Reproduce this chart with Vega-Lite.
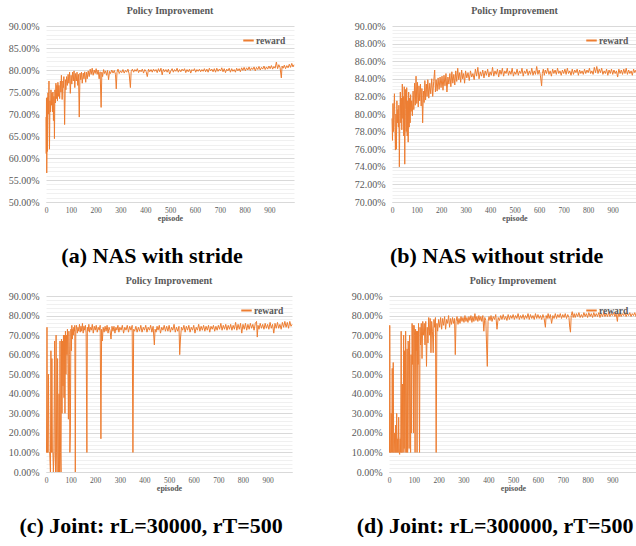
{
"$schema": "https://vega.github.io/schema/vega-lite/v6.json",
"background": "white",
"padding": {"left": 8, "top": 6, "right": 0, "bottom": 0},
"datasets": {
"a": [{"e":0,"r":69.3},{"e":1,"r":61},{"e":2,"r":73.6},{"e":3,"r":56.6},{"e":4,"r":63},{"e":5,"r":73.8},{"e":6,"r":61.5},{"e":8,"r":74.8},{"e":10,"r":70},{"e":12,"r":77.5},{"e":14,"r":62},{"e":16,"r":73},{"e":18,"r":70.5},{"e":20,"r":75.5},{"e":22,"r":72},{"e":24,"r":74.8},{"e":26,"r":70.5},{"e":28,"r":75},{"e":30,"r":68.5},{"e":32,"r":74},{"e":34,"r":64.4},{"e":36,"r":75.5},{"e":38,"r":72.5},{"e":40,"r":77},{"e":42,"r":73.5},{"e":44,"r":76.5},{"e":46,"r":73},{"e":48,"r":77.2},{"e":50,"r":74},{"e":52,"r":76.5},{"e":55,"r":73.5},{"e":58,"r":77.5},{"e":60,"r":75},{"e":62,"r":78.8},{"e":65,"r":73.3},{"e":68,"r":77.5},{"e":70,"r":76},{"e":72,"r":78.5},{"e":75,"r":67.6},{"e":78,"r":77.8},{"e":80,"r":75.5},{"e":83,"r":78.5},{"e":86,"r":76.5},{"e":89,"r":79},{"e":92,"r":77},{"e":95,"r":79.5},{"e":98,"r":74.7},{"e":101,"r":78.8},{"e":104,"r":76.8},{"e":107,"r":79.5},{"e":110,"r":77.5},{"e":113,"r":79.8},{"e":116,"r":76},{"e":119,"r":79.2},{"e":122,"r":77.5},{"e":125,"r":79.5},{"e":128,"r":76.5},{"e":131,"r":79},{"e":134,"r":69.3},{"e":137,"r":79.3},{"e":140,"r":77.8},{"e":143,"r":79.5},{"e":146,"r":77},{"e":150,"r":79.3},{"e":153,"r":78},{"e":156,"r":79.6},{"e":160,"r":77.2},{"e":163,"r":79.5},{"e":166,"r":78},{"e":170,"r":79.8},{"e":174,"r":78.5},{"e":178,"r":80.2},{"e":182,"r":79},{"e":186,"r":80.4},{"e":190,"r":78.8},{"e":194,"r":80},{"e":198,"r":79.2},{"e":202,"r":80.3},{"e":206,"r":79},{"e":210,"r":80},{"e":214,"r":78},{"e":218,"r":79.6},{"e":222,"r":71.5},{"e":225,"r":79.5},{"e":228,"r":78.5},{"e":232,"r":80.1},{"e":236,"r":79.2},{"e":240,"r":79.8},{"e":244,"r":78.8},{"e":248,"r":79.9},{"e":252,"r":77.8},{"e":256,"r":79.7},{"e":260,"r":79.2},{"e":265,"r":80},{"e":270,"r":79.3},{"e":275,"r":79.9},{"e":280,"r":79},{"e":283,"r":75.7},{"e":286,"r":79.5},{"e":290,"r":80.2},{"e":295,"r":79.2},{"e":300,"r":79.8},{"e":305,"r":79.4},{"e":310,"r":80.1},{"e":315,"r":79.3},{"e":320,"r":79.9},{"e":325,"r":79.5},{"e":330,"r":80.2},{"e":335,"r":79.1},{"e":340,"r":76},{"e":343,"r":79.6},{"e":348,"r":80.2},{"e":353,"r":79.5},{"e":358,"r":80.1},{"e":363,"r":79.7},{"e":368,"r":80.3},{"e":373,"r":79.4},{"e":378,"r":80},{"e":383,"r":79.6},{"e":388,"r":80.2},{"e":393,"r":79.3},{"e":398,"r":80.1},{"e":403,"r":79.7},{"e":408,"r":78.5},{"e":413,"r":80.2},{"e":418,"r":79.6},{"e":423,"r":80.1},{"e":428,"r":79.5},{"e":433,"r":80.2},{"e":438,"r":79.7},{"e":443,"r":80.1},{"e":448,"r":79.4},{"e":453,"r":80.3},{"e":458,"r":79.6},{"e":463,"r":80.4},{"e":468,"r":78.9},{"e":473,"r":80.2},{"e":478,"r":79.6},{"e":483,"r":80.1},{"e":488,"r":79.5},{"e":493,"r":80.2},{"e":498,"r":79.1},{"e":503,"r":79.8},{"e":508,"r":80.3},{"e":513,"r":79.5},{"e":518,"r":80.1},{"e":523,"r":79.7},{"e":528,"r":80.4},{"e":533,"r":79.5},{"e":538,"r":80.1},{"e":543,"r":79.6},{"e":548,"r":80.2},{"e":553,"r":79.8},{"e":558,"r":80.3},{"e":563,"r":79.4},{"e":568,"r":80.1},{"e":573,"r":79.6},{"e":578,"r":80.2},{"e":583,"r":79.3},{"e":588,"r":80.1},{"e":593,"r":79.8},{"e":598,"r":80.3},{"e":603,"r":79.5},{"e":608,"r":80.1},{"e":613,"r":79.7},{"e":618,"r":80.2},{"e":623,"r":79.6},{"e":628,"r":80.1},{"e":633,"r":79.7},{"e":638,"r":80.3},{"e":643,"r":79.6},{"e":648,"r":80.2},{"e":653,"r":79.5},{"e":658,"r":80.4},{"e":663,"r":79.8},{"e":668,"r":80.2},{"e":673,"r":79.6},{"e":678,"r":80.3},{"e":683,"r":79.5},{"e":688,"r":80.4},{"e":693,"r":79.7},{"e":698,"r":80.2},{"e":703,"r":79.8},{"e":708,"r":80.5},{"e":713,"r":79.6},{"e":718,"r":80.3},{"e":723,"r":79.4},{"e":728,"r":80.2},{"e":733,"r":79.8},{"e":738,"r":80.4},{"e":743,"r":79.5},{"e":748,"r":80.3},{"e":753,"r":79.7},{"e":758,"r":80.1},{"e":763,"r":79.5},{"e":768,"r":80.4},{"e":773,"r":79.8},{"e":778,"r":80.3},{"e":783,"r":79.6},{"e":788,"r":80.5},{"e":793,"r":79.9},{"e":798,"r":80.6},{"e":803,"r":79.8},{"e":808,"r":80.5},{"e":813,"r":80},{"e":818,"r":80.7},{"e":823,"r":79.9},{"e":828,"r":80.5},{"e":833,"r":80.1},{"e":838,"r":80.7},{"e":843,"r":79.8},{"e":848,"r":80.6},{"e":853,"r":80.1},{"e":858,"r":80.8},{"e":863,"r":80},{"e":868,"r":80.6},{"e":873,"r":80.2},{"e":878,"r":80.9},{"e":883,"r":80.1},{"e":888,"r":80.7},{"e":893,"r":80.2},{"e":898,"r":80.9},{"e":903,"r":80.3},{"e":908,"r":81},{"e":913,"r":80.2},{"e":918,"r":80.8},{"e":923,"r":80.4},{"e":928,"r":81.8},{"e":933,"r":80.3},{"e":938,"r":81.2},{"e":943,"r":80.5},{"e":948,"r":78.2},{"e":951,"r":80.9},{"e":955,"r":80.4},{"e":960,"r":81.1},{"e":965,"r":80.3},{"e":970,"r":81},{"e":975,"r":80.5},{"e":980,"r":81.3},{"e":985,"r":80.6},{"e":990,"r":81.5},{"e":995,"r":80.7},{"e":999,"r":81.2}],
"b": [{"e":0,"r":79.5},{"e":2,"r":77},{"e":4,"r":81.2},{"e":6,"r":78},{"e":8,"r":80.5},{"e":10,"r":82.3},{"e":12,"r":78.5},{"e":14,"r":75.9},{"e":16,"r":80},{"e":18,"r":76},{"e":20,"r":81.5},{"e":22,"r":79},{"e":24,"r":80.5},{"e":26,"r":78.5},{"e":28,"r":81},{"e":30,"r":74},{"e":32,"r":79.5},{"e":34,"r":82.5},{"e":36,"r":79},{"e":38,"r":81.8},{"e":40,"r":78.2},{"e":42,"r":83.4},{"e":44,"r":79.5},{"e":46,"r":82},{"e":48,"r":77.5},{"e":50,"r":83.1},{"e":52,"r":74.3},{"e":54,"r":80.5},{"e":56,"r":82.8},{"e":58,"r":78},{"e":60,"r":83},{"e":62,"r":77.5},{"e":64,"r":81.5},{"e":66,"r":76.8},{"e":68,"r":82.5},{"e":70,"r":78.5},{"e":72,"r":81.8},{"e":74,"r":79},{"e":76,"r":82.2},{"e":78,"r":80.3},{"e":80,"r":81.5},{"e":83,"r":79.8},{"e":86,"r":82.6},{"e":89,"r":80.5},{"e":92,"r":83.5},{"e":95,"r":81},{"e":98,"r":84.3},{"e":101,"r":81.2},{"e":104,"r":83.6},{"e":107,"r":80.8},{"e":110,"r":83.2},{"e":113,"r":81.5},{"e":116,"r":83.4},{"e":119,"r":80.9},{"e":122,"r":82.9},{"e":125,"r":79},{"e":128,"r":82.6},{"e":131,"r":81.3},{"e":134,"r":83.8},{"e":137,"r":81.6},{"e":140,"r":83.4},{"e":143,"r":82},{"e":146,"r":83.9},{"e":150,"r":81.8},{"e":154,"r":83.5},{"e":158,"r":82.3},{"e":162,"r":84},{"e":166,"r":82},{"e":170,"r":83.7},{"e":174,"r":85},{"e":177,"r":82.5},{"e":180,"r":83.9},{"e":184,"r":82.6},{"e":188,"r":84.1},{"e":192,"r":82.8},{"e":196,"r":84.2},{"e":200,"r":83},{"e":204,"r":84.3},{"e":208,"r":82.7},{"e":212,"r":84.4},{"e":216,"r":83.2},{"e":220,"r":84.6},{"e":224,"r":82.5},{"e":228,"r":84.2},{"e":232,"r":83.4},{"e":236,"r":84.6},{"e":240,"r":83.1},{"e":244,"r":84.8},{"e":248,"r":83.5},{"e":252,"r":84.5},{"e":256,"r":83.3},{"e":260,"r":84.9},{"e":264,"r":83.7},{"e":268,"r":85.2},{"e":272,"r":83.9},{"e":276,"r":84.7},{"e":280,"r":83.6},{"e":284,"r":85},{"e":288,"r":84},{"e":292,"r":84.6},{"e":296,"r":83.5},{"e":300,"r":84.9},{"e":305,"r":84.1},{"e":310,"r":84.7},{"e":315,"r":83.8},{"e":320,"r":84.9},{"e":325,"r":84.2},{"e":330,"r":84.6},{"e":335,"r":83.9},{"e":340,"r":85.1},{"e":345,"r":84.3},{"e":350,"r":85.3},{"e":355,"r":84},{"e":360,"r":84.8},{"e":365,"r":84.3},{"e":370,"r":85},{"e":375,"r":84.1},{"e":380,"r":84.9},{"e":385,"r":84.4},{"e":390,"r":85.1},{"e":395,"r":84.2},{"e":400,"r":84.8},{"e":405,"r":84.4},{"e":410,"r":85.3},{"e":415,"r":84.3},{"e":420,"r":84.9},{"e":425,"r":84.5},{"e":430,"r":85.1},{"e":435,"r":84.2},{"e":440,"r":85},{"e":445,"r":84.5},{"e":450,"r":85.2},{"e":455,"r":84.3},{"e":460,"r":84.9},{"e":465,"r":84.6},{"e":470,"r":85.2},{"e":475,"r":84.4},{"e":480,"r":84.9},{"e":485,"r":84.5},{"e":490,"r":85.2},{"e":495,"r":84.3},{"e":500,"r":84.8},{"e":505,"r":84.5},{"e":510,"r":85.1},{"e":515,"r":84.4},{"e":520,"r":84.9},{"e":525,"r":84.6},{"e":530,"r":85.2},{"e":535,"r":84.3},{"e":540,"r":84.9},{"e":545,"r":84.6},{"e":550,"r":85.1},{"e":555,"r":84.4},{"e":560,"r":84.9},{"e":565,"r":84.5},{"e":570,"r":85.2},{"e":575,"r":84.4},{"e":580,"r":84.9},{"e":585,"r":84.5},{"e":590,"r":85.4},{"e":595,"r":84.5},{"e":600,"r":85},{"e":605,"r":84.4},{"e":610,"r":83.2},{"e":613,"r":84.6},{"e":617,"r":85.1},{"e":621,"r":84.4},{"e":625,"r":85},{"e":630,"r":84.6},{"e":635,"r":85.2},{"e":640,"r":84.5},{"e":645,"r":84.9},{"e":650,"r":84.3},{"e":655,"r":85.1},{"e":660,"r":84.6},{"e":665,"r":85},{"e":670,"r":84.5},{"e":675,"r":85.2},{"e":680,"r":84.6},{"e":685,"r":84.9},{"e":690,"r":84.4},{"e":695,"r":85},{"e":700,"r":84.6},{"e":705,"r":85.1},{"e":710,"r":84.5},{"e":715,"r":85.2},{"e":720,"r":84.6},{"e":725,"r":84.9},{"e":730,"r":84.4},{"e":735,"r":85.1},{"e":740,"r":84.5},{"e":745,"r":85},{"e":750,"r":84.7},{"e":755,"r":85.1},{"e":760,"r":84.4},{"e":765,"r":85},{"e":770,"r":84.6},{"e":775,"r":84.9},{"e":780,"r":84.5},{"e":785,"r":85.1},{"e":790,"r":84.6},{"e":795,"r":85},{"e":800,"r":84.7},{"e":805,"r":85.2},{"e":810,"r":84.6},{"e":815,"r":84.9},{"e":820,"r":84.5},{"e":825,"r":85.3},{"e":830,"r":84.7},{"e":835,"r":85.4},{"e":840,"r":84.6},{"e":845,"r":85.1},{"e":850,"r":84.7},{"e":855,"r":85.2},{"e":860,"r":84.5},{"e":865,"r":84.9},{"e":870,"r":84.6},{"e":875,"r":85.1},{"e":880,"r":84.4},{"e":885,"r":85},{"e":890,"r":84.6},{"e":895,"r":85.1},{"e":900,"r":84.5},{"e":905,"r":85},{"e":910,"r":84.6},{"e":915,"r":84.9},{"e":920,"r":84.2},{"e":925,"r":85.1},{"e":930,"r":84.6},{"e":935,"r":85},{"e":940,"r":84.5},{"e":945,"r":85.1},{"e":950,"r":84.6},{"e":955,"r":85.2},{"e":960,"r":84.5},{"e":965,"r":85},{"e":970,"r":84.6},{"e":975,"r":84.9},{"e":980,"r":84.4},{"e":985,"r":85.1},{"e":990,"r":84.7},{"e":995,"r":85},{"e":999,"r":84.8}],
"c": [{"e":0,"r":10},{"e":2,"r":10},{"e":4,"r":74},{"e":6,"r":10},{"e":8,"r":10},{"e":10,"r":50},{"e":12,"r":10},{"e":15,"r":10},{"e":18,"r":0},{"e":20,"r":62},{"e":22,"r":10},{"e":24,"r":58},{"e":26,"r":10},{"e":28,"r":10},{"e":30,"r":0},{"e":32,"r":10},{"e":35,"r":67},{"e":37,"r":10},{"e":39,"r":0},{"e":41,"r":70},{"e":43,"r":10},{"e":45,"r":0},{"e":47,"r":58},{"e":49,"r":10},{"e":51,"r":0},{"e":53,"r":40},{"e":55,"r":0},{"e":57,"r":67},{"e":59,"r":10},{"e":61,"r":0},{"e":63,"r":68},{"e":65,"r":30},{"e":67,"r":67},{"e":69,"r":44},{"e":71,"r":70},{"e":73,"r":38},{"e":75,"r":70},{"e":77,"r":30},{"e":79,"r":72},{"e":81,"r":50},{"e":83,"r":70},{"e":85,"r":60},{"e":87,"r":73},{"e":89,"r":55},{"e":91,"r":27},{"e":93,"r":72},{"e":95,"r":60},{"e":97,"r":10},{"e":99,"r":20},{"e":101,"r":73},{"e":103,"r":62},{"e":105,"r":75},{"e":107,"r":68},{"e":109,"r":73},{"e":111,"r":70},{"e":113,"r":74},{"e":115,"r":72},{"e":117,"r":75},{"e":119,"r":0},{"e":121,"r":72},{"e":124,"r":75},{"e":127,"r":71},{"e":130,"r":74},{"e":133,"r":72},{"e":136,"r":75.5},{"e":139,"r":71.5},{"e":142,"r":74.5},{"e":145,"r":72},{"e":148,"r":76},{"e":151,"r":71},{"e":154,"r":74.5},{"e":157,"r":72.5},{"e":160,"r":75},{"e":163,"r":71},{"e":166,"r":10},{"e":168,"r":74},{"e":171,"r":72},{"e":174,"r":75.5},{"e":177,"r":71.5},{"e":180,"r":74},{"e":184,"r":72.5},{"e":188,"r":75.5},{"e":192,"r":71},{"e":196,"r":74.5},{"e":200,"r":72.5},{"e":204,"r":75},{"e":208,"r":71.5},{"e":212,"r":74},{"e":216,"r":72.5},{"e":220,"r":75},{"e":223,"r":17},{"e":226,"r":73},{"e":229,"r":67},{"e":232,"r":74},{"e":236,"r":71.5},{"e":240,"r":74.5},{"e":244,"r":72},{"e":248,"r":75},{"e":252,"r":71},{"e":256,"r":74},{"e":260,"r":72.5},{"e":264,"r":68},{"e":268,"r":74.5},{"e":272,"r":72},{"e":276,"r":74.5},{"e":280,"r":71},{"e":284,"r":74},{"e":288,"r":72.5},{"e":292,"r":75},{"e":296,"r":71.5},{"e":300,"r":74},{"e":305,"r":72.5},{"e":310,"r":75},{"e":315,"r":71},{"e":320,"r":74},{"e":325,"r":72.5},{"e":330,"r":75},{"e":335,"r":71.5},{"e":340,"r":74.5},{"e":345,"r":72.5},{"e":350,"r":75},{"e":353,"r":10},{"e":356,"r":73},{"e":360,"r":72},{"e":365,"r":74.5},{"e":370,"r":71.5},{"e":375,"r":74},{"e":380,"r":72},{"e":385,"r":75},{"e":390,"r":71.5},{"e":395,"r":74},{"e":400,"r":72.5},{"e":405,"r":75},{"e":410,"r":71.5},{"e":415,"r":74},{"e":420,"r":72.5},{"e":425,"r":75},{"e":430,"r":71.5},{"e":435,"r":74.5},{"e":440,"r":65},{"e":443,"r":73},{"e":447,"r":71.5},{"e":451,"r":74.5},{"e":455,"r":72.5},{"e":460,"r":75},{"e":465,"r":71},{"e":470,"r":74},{"e":475,"r":72.5},{"e":480,"r":75},{"e":485,"r":72},{"e":490,"r":74.5},{"e":495,"r":72},{"e":500,"r":75},{"e":505,"r":71.5},{"e":510,"r":74},{"e":515,"r":72.5},{"e":520,"r":75.5},{"e":525,"r":71.5},{"e":530,"r":74},{"e":535,"r":72},{"e":540,"r":74.5},{"e":543,"r":60},{"e":546,"r":68},{"e":550,"r":74},{"e":555,"r":72.5},{"e":560,"r":75},{"e":565,"r":71.5},{"e":570,"r":74.5},{"e":575,"r":72.5},{"e":580,"r":75},{"e":585,"r":71.5},{"e":590,"r":74},{"e":595,"r":72.5},{"e":600,"r":75},{"e":605,"r":71},{"e":610,"r":74},{"e":615,"r":72.5},{"e":620,"r":75.5},{"e":625,"r":72},{"e":630,"r":74.5},{"e":635,"r":72.5},{"e":640,"r":75},{"e":645,"r":72},{"e":650,"r":74.5},{"e":655,"r":72.5},{"e":660,"r":75},{"e":665,"r":71.5},{"e":670,"r":74.5},{"e":675,"r":73},{"e":680,"r":75},{"e":685,"r":72},{"e":690,"r":74.5},{"e":695,"r":72.5},{"e":700,"r":75},{"e":705,"r":73},{"e":710,"r":76},{"e":715,"r":72.5},{"e":720,"r":75},{"e":725,"r":73},{"e":730,"r":75.5},{"e":735,"r":72.5},{"e":740,"r":75},{"e":745,"r":73},{"e":750,"r":75.5},{"e":755,"r":72.5},{"e":760,"r":75},{"e":765,"r":73},{"e":770,"r":76.5},{"e":775,"r":72.5},{"e":780,"r":75.5},{"e":785,"r":73},{"e":790,"r":76},{"e":795,"r":71},{"e":800,"r":75.5},{"e":805,"r":73},{"e":810,"r":76},{"e":815,"r":72.5},{"e":820,"r":75.5},{"e":825,"r":73},{"e":830,"r":76},{"e":835,"r":73.5},{"e":840,"r":75.5},{"e":845,"r":72.5},{"e":850,"r":76},{"e":855,"r":77},{"e":858,"r":69},{"e":861,"r":75},{"e":865,"r":73},{"e":870,"r":76},{"e":875,"r":73.5},{"e":880,"r":75.5},{"e":885,"r":73},{"e":890,"r":76},{"e":895,"r":73.5},{"e":900,"r":75.5},{"e":905,"r":73},{"e":910,"r":76.5},{"e":915,"r":73.5},{"e":920,"r":75.5},{"e":925,"r":71},{"e":930,"r":76},{"e":935,"r":73.5},{"e":940,"r":76.5},{"e":945,"r":73.5},{"e":950,"r":75.5},{"e":955,"r":73},{"e":960,"r":76.5},{"e":965,"r":74},{"e":970,"r":77},{"e":975,"r":74},{"e":980,"r":76.5},{"e":985,"r":73.5},{"e":990,"r":77},{"e":995,"r":74.5},{"e":999,"r":75.5}],
"d": [{"e":0,"r":10},{"e":2,"r":10},{"e":3,"r":75},{"e":5,"r":10},{"e":7,"r":10},{"e":9,"r":30},{"e":11,"r":10},{"e":13,"r":53},{"e":15,"r":10},{"e":17,"r":56},{"e":19,"r":10},{"e":21,"r":10},{"e":23,"r":20},{"e":25,"r":10},{"e":27,"r":24},{"e":29,"r":10},{"e":31,"r":30},{"e":33,"r":10},{"e":35,"r":17},{"e":37,"r":10},{"e":39,"r":28},{"e":41,"r":10},{"e":43,"r":9},{"e":45,"r":17},{"e":47,"r":10},{"e":49,"r":72},{"e":51,"r":10},{"e":53,"r":10},{"e":55,"r":45},{"e":57,"r":10},{"e":59,"r":70},{"e":61,"r":12},{"e":63,"r":62},{"e":65,"r":10},{"e":67,"r":72},{"e":69,"r":45},{"e":71,"r":10},{"e":73,"r":63},{"e":75,"r":10},{"e":77,"r":67},{"e":79,"r":62},{"e":81,"r":12},{"e":83,"r":70},{"e":85,"r":40},{"e":87,"r":10},{"e":89,"r":60},{"e":91,"r":20},{"e":93,"r":76},{"e":95,"r":55},{"e":97,"r":75},{"e":99,"r":20},{"e":101,"r":75},{"e":103,"r":70},{"e":105,"r":10},{"e":107,"r":73},{"e":109,"r":62},{"e":111,"r":72},{"e":113,"r":10},{"e":115,"r":72},{"e":117,"r":55},{"e":119,"r":76},{"e":121,"r":44},{"e":123,"r":10},{"e":125,"r":74},{"e":127,"r":65},{"e":130,"r":76},{"e":133,"r":58},{"e":136,"r":77},{"e":139,"r":70},{"e":142,"r":76},{"e":145,"r":65},{"e":148,"r":77},{"e":151,"r":54},{"e":154,"r":74},{"e":157,"r":66},{"e":160,"r":79},{"e":163,"r":70},{"e":166,"r":78.5},{"e":169,"r":61},{"e":172,"r":77},{"e":175,"r":72},{"e":178,"r":61},{"e":181,"r":78},{"e":184,"r":74},{"e":187,"r":79},{"e":190,"r":10},{"e":193,"r":76},{"e":196,"r":72},{"e":200,"r":78},{"e":204,"r":74},{"e":208,"r":79},{"e":212,"r":73},{"e":216,"r":78.5},{"e":220,"r":75},{"e":224,"r":79.5},{"e":228,"r":73},{"e":232,"r":78},{"e":236,"r":76},{"e":240,"r":80},{"e":244,"r":74},{"e":248,"r":78.5},{"e":252,"r":75.5},{"e":256,"r":79},{"e":260,"r":76},{"e":264,"r":78.5},{"e":267,"r":60},{"e":270,"r":77},{"e":274,"r":79.5},{"e":278,"r":75.5},{"e":282,"r":78.5},{"e":286,"r":76},{"e":290,"r":79.5},{"e":294,"r":77},{"e":298,"r":79},{"e":302,"r":76.5},{"e":306,"r":80},{"e":310,"r":77},{"e":314,"r":79},{"e":318,"r":76.5},{"e":322,"r":79.5},{"e":326,"r":77.5},{"e":330,"r":80},{"e":334,"r":76.5},{"e":338,"r":79.5},{"e":342,"r":77},{"e":346,"r":81},{"e":350,"r":77.5},{"e":354,"r":79.5},{"e":358,"r":77},{"e":362,"r":80},{"e":366,"r":77.5},{"e":370,"r":79.5},{"e":374,"r":77},{"e":378,"r":80},{"e":382,"r":72},{"e":386,"r":79},{"e":390,"r":77.5},{"e":393,"r":65},{"e":396,"r":54},{"e":399,"r":77},{"e":403,"r":79.5},{"e":407,"r":77.5},{"e":411,"r":80},{"e":415,"r":77},{"e":420,"r":79.5},{"e":425,"r":78},{"e":430,"r":80.5},{"e":435,"r":73},{"e":440,"r":79},{"e":445,"r":77.5},{"e":450,"r":80},{"e":455,"r":78},{"e":460,"r":80.5},{"e":465,"r":78},{"e":470,"r":79.5},{"e":475,"r":77.5},{"e":480,"r":80.5},{"e":485,"r":78},{"e":490,"r":80},{"e":495,"r":78.5},{"e":500,"r":80.5},{"e":505,"r":78},{"e":510,"r":80},{"e":515,"r":78.5},{"e":520,"r":81},{"e":525,"r":78},{"e":530,"r":80},{"e":535,"r":78.5},{"e":540,"r":80.5},{"e":545,"r":78},{"e":550,"r":80},{"e":555,"r":78.5},{"e":560,"r":81},{"e":565,"r":78},{"e":570,"r":80.5},{"e":575,"r":78.5},{"e":580,"r":80},{"e":585,"r":78},{"e":590,"r":81},{"e":595,"r":78.5},{"e":600,"r":80.5},{"e":605,"r":78.5},{"e":610,"r":80},{"e":615,"r":78},{"e":620,"r":80.5},{"e":625,"r":78.5},{"e":630,"r":74},{"e":633,"r":80},{"e":637,"r":78.5},{"e":641,"r":81},{"e":645,"r":78.5},{"e":650,"r":80.5},{"e":655,"r":76},{"e":660,"r":80},{"e":665,"r":78.5},{"e":670,"r":81},{"e":675,"r":78.5},{"e":680,"r":80.5},{"e":685,"r":79},{"e":690,"r":81},{"e":695,"r":78.5},{"e":700,"r":80.5},{"e":705,"r":79},{"e":710,"r":81},{"e":715,"r":78.5},{"e":720,"r":80.5},{"e":725,"r":79},{"e":728,"r":74},{"e":731,"r":71.5},{"e":734,"r":80},{"e":738,"r":82},{"e":742,"r":79},{"e":746,"r":81},{"e":750,"r":79},{"e":755,"r":81},{"e":760,"r":79.5},{"e":765,"r":81.5},{"e":770,"r":79},{"e":775,"r":80.5},{"e":780,"r":79},{"e":785,"r":81.5},{"e":790,"r":79.5},{"e":795,"r":81},{"e":800,"r":79},{"e":805,"r":81.5},{"e":810,"r":79.5},{"e":815,"r":81},{"e":820,"r":79},{"e":825,"r":81.5},{"e":830,"r":79.5},{"e":835,"r":81},{"e":840,"r":79.5},{"e":845,"r":81.5},{"e":850,"r":79},{"e":855,"r":81},{"e":860,"r":79.5},{"e":865,"r":81.5},{"e":870,"r":79.5},{"e":875,"r":81},{"e":880,"r":79.5},{"e":885,"r":81.5},{"e":890,"r":79.5},{"e":895,"r":81},{"e":900,"r":80},{"e":905,"r":81.5},{"e":910,"r":79.5},{"e":915,"r":81},{"e":920,"r":77},{"e":923,"r":81},{"e":927,"r":79.5},{"e":931,"r":81.5},{"e":935,"r":79.5},{"e":940,"r":81},{"e":945,"r":80},{"e":950,"r":81.5},{"e":955,"r":79.5},{"e":960,"r":81},{"e":965,"r":80},{"e":970,"r":81.5},{"e":975,"r":79.5},{"e":980,"r":81},{"e":985,"r":80},{"e":990,"r":81.5},{"e":995,"r":79.5},{"e":999,"r":80.5}]
},
"spacing": 9,
"resolve": {"scale": {"color": "independent"}, "legend": {"color": "independent"}},
"vconcat": [
{
"hconcat": [
{
"vconcat": [{
"data": {"name": "a"}, "width": 248, "height": 176,
"title": "Policy Improvement",
"mark": {"type": "line", "strokeWidth": 1},
"encoding": {
"x": {"field": "e", "type": "quantitative", "scale": {"domain": [0, 999], "nice": false}, "axis": {"values": [0,100,200,300,400,500,600,700,800,900], "title": "episode"}},
"y": {"field": "r", "type": "quantitative", "scale": {"domain": [50, 90], "nice": false, "zero": false}, "axis": {"values": [50,51,52,53,54,55,56,57,58,59,60,61,62,63,64,65,66,67,68,69,70,71,72,73,74,75,76,77,78,79,80,81,82,83,84,85,86,87,88,89,90], "labelExpr": "datum.value % 5 === 0 ? format(datum.value, '.2f') + '%' : ''", "gridColor": {"condition": {"test": "datum.value % 5 === 0", "value": "#d9d9d9"}, "value": "#f0f0f0"}}},
"color": {"datum": "reward", "type": "nominal", "scale": {"range": ["#ED7D31"]}, "legend": {"orient": "top-right", "title": null, "offset": 8}}
}
}],
"resolve": {"scale": {"color": "independent"}, "legend": {"color": "independent"}},
"title": {"text": "(a) NAS with stride", "orient": "bottom", "anchor": "middle", "font": "Liberation Serif", "fontSize": 22, "fontWeight": "bold", "color": "#000000", "offset": 23}
},
{
"vconcat": [{
"data": {"name": "b"}, "width": 245, "height": 176,
"title": "Policy Improvement",
"mark": {"type": "line", "strokeWidth": 1},
"encoding": {
"x": {"field": "e", "type": "quantitative", "scale": {"domain": [0, 999], "nice": false}, "axis": {"values": [0,100,200,300,400,500,600,700,800,900], "title": "episode"}},
"y": {"field": "r", "type": "quantitative", "scale": {"domain": [70, 90], "nice": false, "zero": false}, "axis": {"values": [70,70.4,70.8,71.2,71.6,72,72.4,72.8,73.2,73.6,74,74.4,74.8,75.2,75.6,76,76.4,76.8,77.2,77.6,78,78.4,78.8,79.2,79.6,80,80.4,80.8,81.2,81.6,82,82.4,82.8,83.2,83.6,84,84.4,84.8,85.2,85.6,86,86.4,86.8,87.2,87.6,88,88.4,88.8,89.2,89.6,90], "labelExpr": "abs(datum.value/2 - round(datum.value/2)) < 0.001 ? format(datum.value, '.2f') + '%' : ''", "gridColor": {"condition": {"test": "abs(datum.value/2 - round(datum.value/2)) < 0.001", "value": "#d9d9d9"}, "value": "#f0f0f0"}}},
"color": {"datum": "reward", "type": "nominal", "scale": {"range": ["#ED7D31"]}, "legend": {"orient": "top-right", "title": null, "offset": 8}}
}
}],
"resolve": {"scale": {"color": "independent"}, "legend": {"color": "independent"}},
"title": {"text": "(b) NAS without stride", "orient": "bottom", "anchor": "middle", "font": "Liberation Serif", "fontSize": 22, "fontWeight": "bold", "color": "#000000", "offset": 23}
}
],
"spacing": 58,
"resolve": {"scale": {"color": "independent"}, "legend": {"color": "independent"}}
},
{
"hconcat": [
{
"vconcat": [{
"data": {"name": "c"}, "width": 246, "height": 176,
"title": "Policy Improvement",
"mark": {"type": "line", "strokeWidth": 1},
"encoding": {
"x": {"field": "e", "type": "quantitative", "scale": {"domain": [0, 999], "nice": false}, "axis": {"values": [0,100,200,300,400,500,600,700,800,900], "title": "episode"}},
"y": {"field": "r", "type": "quantitative", "scale": {"domain": [0, 90], "nice": false}, "axis": {"values": [0,2,4,6,8,10,12,14,16,18,20,22,24,26,28,30,32,34,36,38,40,42,44,46,48,50,52,54,56,58,60,62,64,66,68,70,72,74,76,78,80,82,84,86,88,90], "labelExpr": "datum.value % 10 === 0 ? format(datum.value, '.2f') + '%' : ''", "gridColor": {"condition": {"test": "datum.value % 10 === 0", "value": "#d9d9d9"}, "value": "#f0f0f0"}}},
"color": {"datum": "reward", "type": "nominal", "scale": {"range": ["#ED7D31"]}, "legend": {"orient": "top-right", "title": null, "offset": 8}}
}
}],
"resolve": {"scale": {"color": "independent"}, "legend": {"color": "independent"}},
"title": {"text": "(c) Joint: rL=30000, rT=500", "orient": "bottom", "anchor": "middle", "font": "Liberation Serif", "fontSize": 22, "fontWeight": "bold", "color": "#000000", "offset": 23}
},
{
"vconcat": [{
"data": {"name": "d"}, "width": 248, "height": 176,
"title": "Policy Improvement",
"mark": {"type": "line", "strokeWidth": 1},
"encoding": {
"x": {"field": "e", "type": "quantitative", "scale": {"domain": [0, 999], "nice": false}, "axis": {"values": [0,100,200,300,400,500,600,700,800,900], "title": "episode"}},
"y": {"field": "r", "type": "quantitative", "scale": {"domain": [0, 90], "nice": false}, "axis": {"values": [0,2,4,6,8,10,12,14,16,18,20,22,24,26,28,30,32,34,36,38,40,42,44,46,48,50,52,54,56,58,60,62,64,66,68,70,72,74,76,78,80,82,84,86,88,90], "labelExpr": "datum.value % 10 === 0 ? format(datum.value, '.2f') + '%' : ''", "gridColor": {"condition": {"test": "datum.value % 10 === 0", "value": "#d9d9d9"}, "value": "#f0f0f0"}}},
"color": {"datum": "reward", "type": "nominal", "scale": {"range": ["#ED7D31"]}, "legend": {"orient": "top-right", "title": null, "offset": 8}}
}
}],
"resolve": {"scale": {"color": "independent"}, "legend": {"color": "independent"}},
"title": {"text": "(d) Joint: rL=300000, rT=500", "orient": "bottom", "anchor": "middle", "font": "Liberation Serif", "fontSize": 22, "fontWeight": "bold", "color": "#000000", "offset": 23}
}
],
"spacing": 57,
"resolve": {"scale": {"color": "independent"}, "legend": {"color": "independent"}}
}
],
"config": {
"font": "Liberation Serif",
"view": {"stroke": null},
"title": {"font": "Liberation Serif", "fontSize": 10, "fontWeight": "bold", "color": "#595959", "offset": 5},
"axis": {"labelFont": "Liberation Serif", "labelColor": "#595959", "titleFont": "Liberation Serif", "titleColor": "#595959", "titleFontWeight": "bold"},
"axisX": {"labelFontSize": 7.5, "titleFontSize": 8, "ticks": false, "domainColor": "#d9d9d9", "labelPadding": 4, "titlePadding": 1, "grid": false, "labelAngle": 0, "labelFlush": false},
"axisY": {"labelFontSize": 10, "ticks": false, "domain": false, "labelPadding": 7, "title": null},
"legend": {"padding": 0, "symbolType": "stroke", "symbolStrokeWidth": 2, "symbolSize": 110, "labelFont": "Liberation Serif", "labelFontWeight": "bold", "labelFontSize": 9.5, "labelColor": "#595959", "labelOffset": 1}
}
}
